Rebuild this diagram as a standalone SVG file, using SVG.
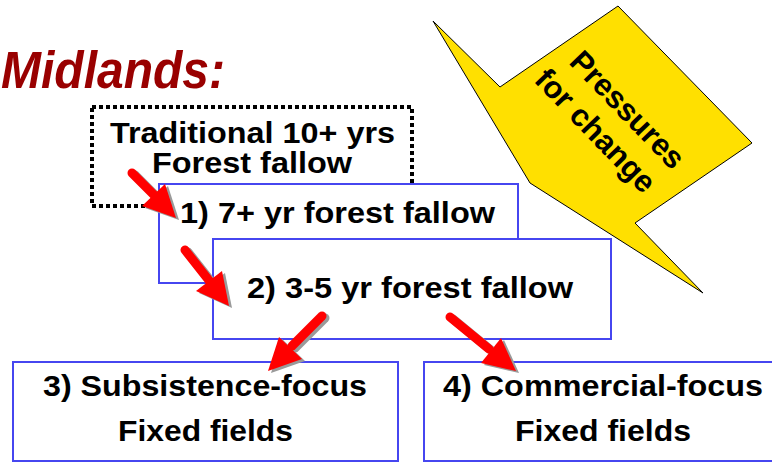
<svg xmlns="http://www.w3.org/2000/svg" width="772" height="462" viewBox="0 0 772 462">
<style>
.t{font-family:"Liberation Sans",Arial,sans-serif;font-weight:bold;font-size:29px;fill:#000}
.box{fill:#fff;stroke:#4646f0;stroke-width:2}
.shaft{stroke:#ff0000;stroke-width:9;stroke-linecap:round;fill:none}
.shaftS{stroke:#9a9a9a;stroke-width:9;stroke-linecap:round;fill:none}
.head{fill:#ff0000}
.headS{fill:#9a9a9a}
</style>
<rect width="772" height="462" fill="#fff"/>
<text id="title" x="1" y="88" textLength="224" lengthAdjust="spacingAndGlyphs" style="font-family:'Liberation Sans',Arial,sans-serif;font-weight:bold;font-style:italic;font-size:51px;fill:#990000">Midlands:</text>
<g id="pressures">
<polygon points="433,21 500,87 618,6 752,143 635,223 703,293 530,183" fill="#ffe000" stroke="#000" stroke-width="1"/>
<text class="t" text-anchor="middle" transform="translate(620,117) rotate(46)" style="font-size:31px">Pressures</text>
<text class="t" text-anchor="middle" transform="translate(588,138) rotate(46)" style="font-size:31px">for change</text>
</g>
<g id="traditional">
<rect x="92" y="107" width="320" height="99" fill="#fff" stroke="#000" stroke-width="4" stroke-dasharray="4 3"/>
<text class="t" x="110" y="143" textLength="285" lengthAdjust="spacingAndGlyphs">Traditional 10+ yrs</text>
<text class="t" x="152" y="173" textLength="200" lengthAdjust="spacingAndGlyphs">Forest fallow</text>
</g>
<g id="stage1">
<rect class="box" x="159" y="184" width="359" height="99"/>
<text class="t" x="180" y="223" textLength="315" lengthAdjust="spacingAndGlyphs">1) 7+ yr forest fallow</text>
</g>
<g id="stage2">
<rect class="box" x="213" y="239" width="398" height="100"/>
<text class="t" x="247" y="298" textLength="326" lengthAdjust="spacingAndGlyphs">2) 3-5 yr forest fallow</text>
</g>
<g id="stage3">
<rect class="box" x="13" y="362" width="385" height="99"/>
<text class="t" x="43" y="396" textLength="324" lengthAdjust="spacingAndGlyphs">3) Subsistence-focus</text>
<text class="t" x="118" y="441" textLength="175" lengthAdjust="spacingAndGlyphs">Fixed fields</text>
</g>
<g id="stage4">
<rect class="box" x="424" y="362" width="360" height="99"/>
<text class="t" x="443" y="396" textLength="320" lengthAdjust="spacingAndGlyphs">4) Commercial-focus</text>
<text class="t" x="515" y="441" textLength="176" lengthAdjust="spacingAndGlyphs">Fixed fields</text>
</g>
<g id="connectors">
<g transform="translate(3,2)">
<line class="shaftS" x1="132" y1="173" x2="156" y2="197"/>
<polygon class="headS" points="176,218 142,206 165,184"/>
<line class="shaftS" x1="185" y1="250" x2="211" y2="283"/>
<polygon class="headS" points="229,306 196,291 222,271"/>
<line class="shaftS" x1="322" y1="316" x2="292" y2="346"/>
<polygon class="headS" points="268,371 279,337 302,359"/>
<line class="shaftS" x1="450" y1="317" x2="489" y2="349"/>
<polygon class="headS" points="516,371 481,363 501,338"/>
</g>
<line class="shaft" x1="132" y1="173" x2="156" y2="197"/>
<polygon class="head" points="176,218 142,206 165,184"/>
<line class="shaft" x1="185" y1="250" x2="211" y2="283"/>
<polygon class="head" points="229,306 196,291 222,271"/>
<line class="shaft" x1="322" y1="316" x2="292" y2="346"/>
<polygon class="head" points="268,371 279,337 302,359"/>
<line class="shaft" x1="450" y1="317" x2="489" y2="349"/>
<polygon class="head" points="516,371 481,363 501,338"/>
</g>
</svg>
